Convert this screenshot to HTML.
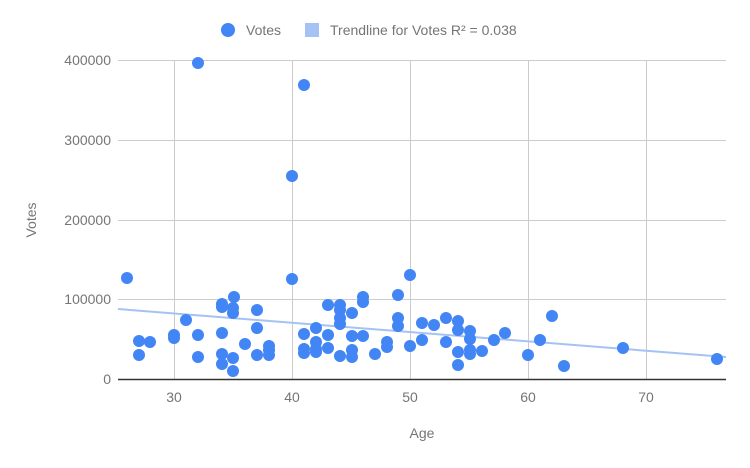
<!DOCTYPE html>
<html><head><meta charset="utf-8"><style>
body{margin:0;background:#fff;}
svg text{font-family:"Liberation Sans",Roboto,sans-serif;fill:#757575;font-size:14px;}
</style></head><body>
<svg width="750" height="463" xmlns="http://www.w3.org/2000/svg">
<rect width="750" height="463" fill="#fff"/>
<g stroke="#cccccc" stroke-width="1">
<line x1="118" y1="60.5" x2="726" y2="60.5"/>
<line x1="118" y1="140.5" x2="726" y2="140.5"/>
<line x1="118" y1="220.5" x2="726" y2="220.5"/>
<line x1="118" y1="299.5" x2="726" y2="299.5"/>
<line x1="174.5" y1="60" x2="174.5" y2="379"/>
<line x1="292.5" y1="60" x2="292.5" y2="379"/>
<line x1="410.5" y1="60" x2="410.5" y2="379"/>
<line x1="528.5" y1="60" x2="528.5" y2="379"/>
<line x1="646.5" y1="60" x2="646.5" y2="379"/>
</g>
<line x1="118" y1="379.5" x2="726" y2="379.5" stroke="#333" stroke-width="1.5"/>
<g text-anchor="end">
<text x="111" y="65">400000</text>
<text x="111" y="145">300000</text>
<text x="111" y="225">200000</text>
<text x="111" y="304">100000</text>
<text x="111" y="384">0</text>
</g>
<g text-anchor="middle">
<text x="174" y="402">30</text>
<text x="292" y="402">40</text>
<text x="410" y="402">50</text>
<text x="528" y="402">60</text>
<text x="646" y="402">70</text>
<text x="422" y="438">Age</text>
</g>
<text transform="translate(36,220) rotate(-90)" text-anchor="middle">Votes</text>
<line x1="118" y1="309" x2="726" y2="357" stroke="#a4c2f4" stroke-width="2"/>
<g fill="#4285f4" id="pts"></g>
<circle cx="228" cy="30" r="7" fill="#4285f4"/>
<text x="246" y="35">Votes</text>
<rect x="305" y="23" width="14" height="14" fill="#a4c2f4"/>
<text x="330" y="35">Trendline for Votes R² = 0.038</text>
</svg>
<script>
var p=[[127,278],[139,341],[139,355],[150,342],[186,320],[174,335],[174,338],[198,63],[198,335],[198,357],[222,304],[222,307],[222,333],[222,354],[222,364],[234,297],[233,308],[233,313],[233,371],[233,358],[245,344],[257,310],[257,328],[257,355],[269,346],[269,355],[269,350],[292,176],[292,279],[304,85],[304,334],[304,349],[304,353],[316,328],[316,342],[316,349],[316,352],[328,305],[328,335],[328,348],[340,305],[340,310],[340,318],[340,324],[340,356],[352,313],[352,336],[352,350],[352,357],[363,297],[363,302],[363,336],[375,354],[387,342],[387,347],[398,295],[398,318],[398,326],[410,275],[410,346],[422,323],[422,340],[434,325],[446,318],[446,342],[458,321],[458,330],[458,352],[458,365],[470,331],[470,339],[470,350],[470,354],[482,351],[494,340],[505,333],[528,355],[540,340],[552,316],[564,366],[623,348],[717,359]];
var g=document.getElementById('pts'),s='';
p.forEach(function(a){s+='<circle cx="'+a[0]+'" cy="'+a[1]+'" r="6"/>';});
g.innerHTML=s;
</script>
</body></html>
